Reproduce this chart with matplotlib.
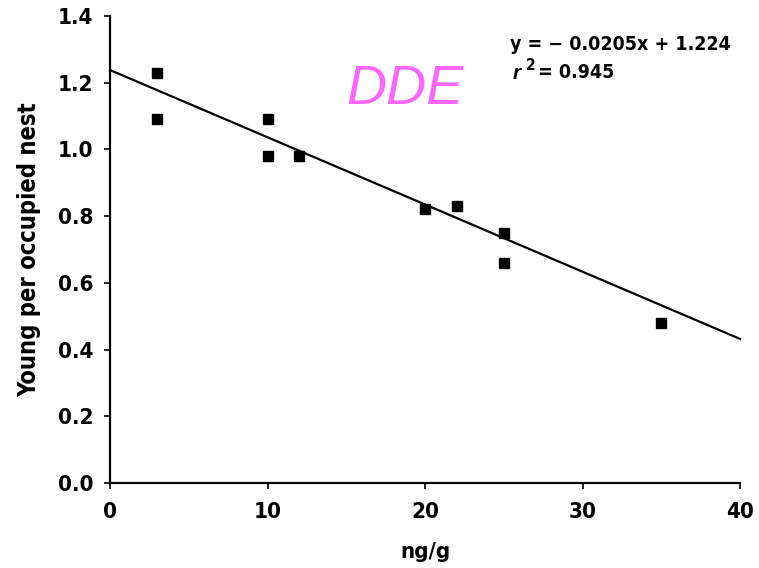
import matplotlib
matplotlib.use("Agg")
import matplotlib.pyplot as plt
from matplotlib import font_manager
from matplotlib.font_manager import FontProperties

# Data
conc_ng_g = [3, 3, 10, 10, 12, 20, 22, 25, 25, 35]
young_per_nest = [1.23, 1.09, 1.09, 0.98, 0.98, 0.82, 0.83, 0.75, 0.66, 0.48]
fit_x = [0, 40]
fit_y = [1.238, 0.432]
x_ticks = [0, 10, 20, 30, 40]
y_ticks = [0.0, 0.2, 0.4, 0.6, 0.8, 1.0, 1.2, 1.4]
x_label = "ng/g"
y_label = "Young per occupied nest"
equation = "y = \u2212 0.0205x + 1.224"
r2_value = "= 0.945"
title_text = "DDE"

# find a condensed / narrow bold font if present
cands = []
for f in font_manager.fontManager.ttflist:
    low = (f.fname + " " + f.name).lower()
    if ("condensed" in low or "narrow" in low or f.stretch in ("condensed", 300)) \
            and (f.weight in ("bold", 700) or "bold" in low) and "oblique" not in low and "italic" not in low:
        cands.append(f)
cands.sort(key=lambda f: (0 if "liberation" in f.fname.lower() else 1, f.fname))
if cands:
    def fp(size):
        return FontProperties(fname=cands[0].fname, size=size)
else:
    def fp(size):
        return FontProperties(family=["Liberation Sans", "DejaVu Sans"], weight="bold", size=size * 0.9)

fig = plt.figure(figsize=(7.59, 5.68), dpi=100)
ax = fig.add_axes([0.145, 0.1496, 0.830, 0.8222])

ax.plot(fit_x, fit_y, color="black", lw=1.6, zorder=2, clip_on=False)
ax.plot(conc_ng_g, young_per_nest, "s", color="black", ms=7.5, zorder=3, clip_on=False)

ax.set_xlim(0, 40)
ax.set_ylim(0, 1.4)
ax.set_xticks(x_ticks)
ax.set_yticks(y_ticks)
ax.set_xticklabels([str(v) for v in x_ticks], fontproperties=fp(16))
ax.set_yticklabels([f"{v:.1f}" for v in y_ticks], fontproperties=fp(16))
ax.tick_params(axis="x", direction="out", length=4, width=1.2, pad=10)
ax.tick_params(axis="y", direction="out", length=4, width=1.2, pad=8)

for s in ["top", "right"]:
    ax.spines[s].set_visible(False)
for s in ["left", "bottom"]:
    ax.spines[s].set_linewidth(1.6)

ax.set_xlabel(x_label, fontproperties=fp(16), labelpad=14)
ax.set_ylabel(y_label, fontproperties=fp(17), labelpad=12)

# Equation annotation
fig.text(510 / 759, 1 - 45 / 568, equation, fontproperties=fp(14), va="center", ha="left")
rp = FontProperties(family=["Liberation Sans", "DejaVu Sans"], style="italic", weight="bold", size=15)
fig.text(513 / 759, 1 - 74 / 568, "r", fontproperties=rp, va="center", ha="left")
fig.text(526 / 759, 1 - 66 / 568, "2", fontproperties=fp(11), va="center", ha="left")
fig.text(538 / 759, 1 - 73 / 568, r2_value, fontproperties=fp(14), va="center", ha="left")

# DDE label
fig.text(405 / 759, 1 - 90 / 568, title_text, family=["Liberation Sans", "DejaVu Sans"],
         style="italic", fontsize=40, color="#ff66ff", ha="center", va="center")

fig.savefig("out.png", dpi=100)
